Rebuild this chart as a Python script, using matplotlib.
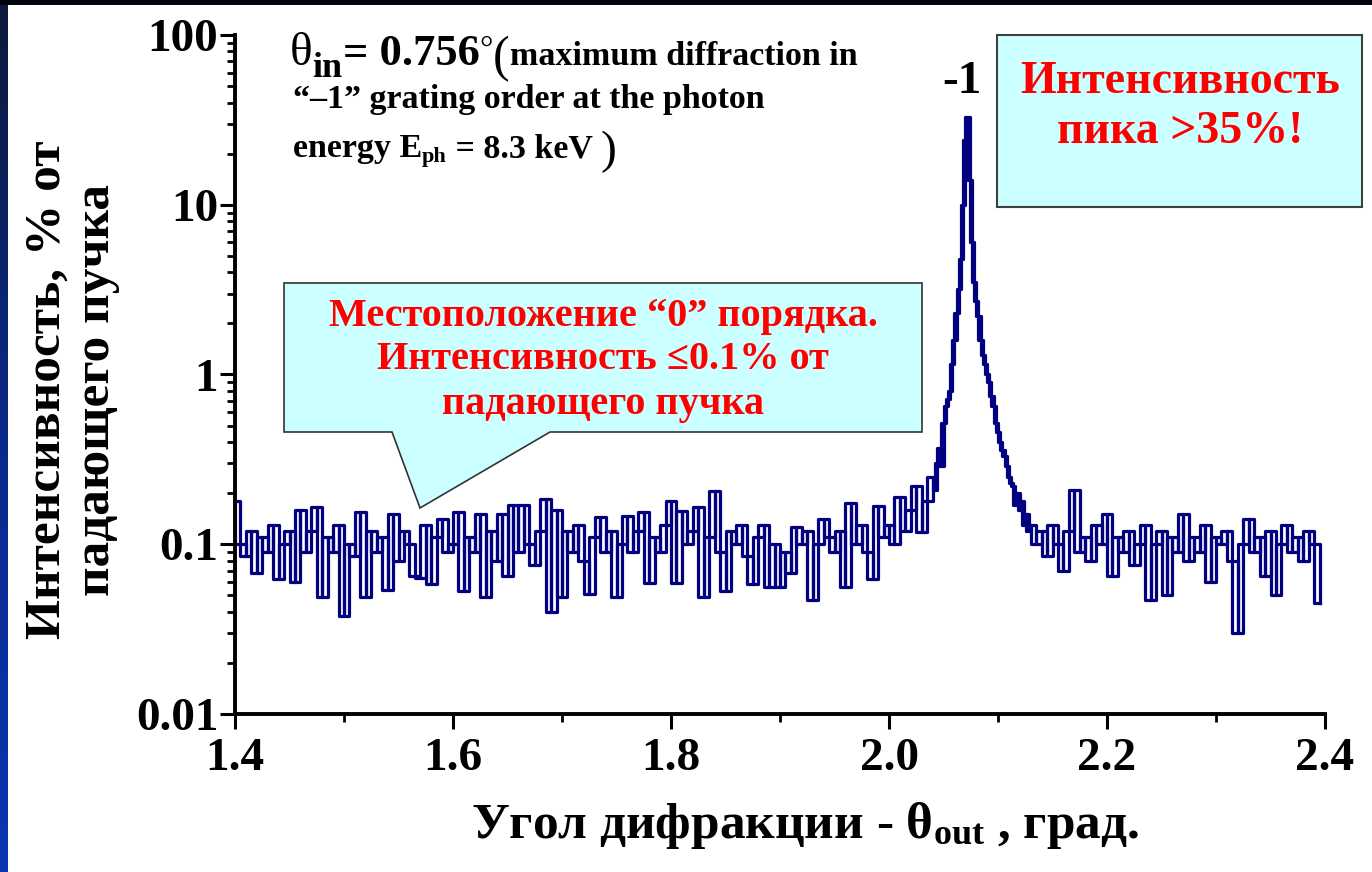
import numpy as np
import matplotlib
matplotlib.use("Agg")
import matplotlib.pyplot as plt
from matplotlib.patches import Rectangle, Polygon
from matplotlib.colors import LinearSegmentedColormap
from matplotlib.ticker import LogLocator, MultipleLocator, NullFormatter

plt.rcParams['font.family'] = ['Liberation Serif', 'DejaVu Serif']
plt.rcParams['font.weight'] = 'bold'
plt.rcParams['mathtext.fontset'] = 'custom'
plt.rcParams['mathtext.rm'] = 'Liberation Serif'
plt.rcParams['mathtext.bf'] = 'Liberation Serif:bold'
plt.rcParams['mathtext.it'] = 'Liberation Serif:italic'

# === data (intensity in % of incident beam)
# background left of the peak, step 0.005 deg
x_left = np.linspace(1.400, 2.035, 128)
y_left = [0.18, 0.10, 0.085, 0.12, 0.068, 0.11, 0.09, 0.13, 0.062, 0.10,
          0.12, 0.06, 0.16, 0.09, 0.12, 0.165, 0.049, 0.11, 0.09, 0.13,
          0.038, 0.10, 0.085, 0.154, 0.049, 0.12, 0.09, 0.11, 0.054, 0.15,
          0.08, 0.12, 0.10, 0.065, 0.063, 0.13, 0.058, 0.11, 0.14, 0.09,
          0.10, 0.154, 0.053, 0.11, 0.09, 0.15, 0.049, 0.12, 0.08, 0.15,
          0.065, 0.17, 0.09, 0.17, 0.10, 0.075, 0.12, 0.184, 0.040, 0.16,
          0.049, 0.12, 0.09, 0.13, 0.08, 0.051, 0.11, 0.145, 0.09, 0.12,
          0.049, 0.10, 0.147, 0.09, 0.12, 0.154, 0.059, 0.11, 0.09, 0.13,
          0.18, 0.059, 0.157, 0.10, 0.12, 0.165, 0.049, 0.11, 0.205, 0.09,
          0.053, 0.12, 0.10, 0.13, 0.085, 0.058, 0.11, 0.13, 0.056, 0.10,
          0.056, 0.09, 0.068, 0.126, 0.10, 0.12, 0.047, 0.10, 0.14, 0.11,
          0.09, 0.12, 0.056, 0.176, 0.10, 0.13, 0.09, 0.062, 0.167, 0.11,
          0.13, 0.10, 0.19, 0.12, 0.16, 0.22, 0.118, 0.18]

# the "-1" order peak, step 0.002 deg
x_peak = np.linspace(2.040, 2.130, 46)
y_peak = [0.25, 0.21, 0.30, 0.37, 0.29, 0.52, 0.65, 0.72, 0.80, 1.15,
          1.6, 2.3, 3.2, 4.8, 10.0, 24.0, 33.0, 14.0, 6.0, 3.5,
          2.7, 2.2, 1.6, 1.3, 1.15, 1.0, 0.9, 0.75, 0.65, 0.52,
          0.46, 0.40, 0.36, 0.33, 0.29, 0.25, 0.23, 0.22, 0.17, 0.20,
          0.16, 0.18, 0.13, 0.15, 0.12, 0.13]

# background right of the peak, step 0.005 deg
x_right = np.linspace(2.135, 2.395, 53)
y_right = [0.10, 0.12, 0.085, 0.13, 0.10, 0.07, 0.12, 0.21, 0.09, 0.11,
           0.08, 0.13, 0.10, 0.15, 0.065, 0.11, 0.09, 0.12, 0.075, 0.10,
           0.13, 0.047, 0.10, 0.12, 0.05, 0.11, 0.09, 0.15, 0.08, 0.11,
           0.09, 0.13, 0.06, 0.11, 0.10, 0.12, 0.08, 0.030, 0.10, 0.14,
           0.09, 0.11, 0.065, 0.12, 0.05, 0.10, 0.13, 0.09, 0.11, 0.08,
           0.12, 0.10, 0.045]

theta = np.concatenate([x_left, x_peak, x_right])
intensity = np.concatenate([y_left, y_peak, y_right])

x_ticks = [1.4, 1.6, 1.8, 2.0, 2.2, 2.4]
x_ticklabels = ["1.4", "1.6", "1.8", "2.0", "2.2", "2.4"]
y_ticks = [0.01, 0.1, 1, 10, 100]
y_ticklabels = ["0.01", "0.1", "1", "10", "100"]

W, H = 1372, 872
fig = plt.figure(figsize=(W / 100, H / 100), dpi=100)
fig.patch.set_facecolor('white')


def px(x, y):
    return x / W, 1 - y / H


# slide background strips
grad = np.linspace(0, 1, 256).reshape(-1, 1)
cmap_bg = LinearSegmentedColormap.from_list('bg', ['#0d1a3a', '#0a2a8a', '#0a36b4'])
bg = fig.add_axes([0, 0, 8 / W, 1])
bg.imshow(grad, aspect='auto', cmap=cmap_bg)
bg.axis('off')
fig.add_artist(Rectangle((0, 1 - 5 / H), 1, 5 / H, transform=fig.transFigure,
                         facecolor='#03050e', edgecolor='none'))

# === main plot
ax = fig.add_axes([235 / W, 1 - 714 / H, 1090 / W, 679 / H])
ax.plot(theta, intensity, drawstyle='steps-pre', color='#000080', lw=2.3)
ax.plot(theta, intensity, drawstyle='steps-post', color='#000080', lw=2.3)

ax.set_yscale('log')
ax.set_xlim(1.4, 2.4)
ax.set_ylim(0.01, 100)
ax.set_xticks(x_ticks, labels=x_ticklabels)
ax.set_yticks(y_ticks, labels=y_ticklabels)
ax.xaxis.set_minor_locator(MultipleLocator(0.1))
ax.yaxis.set_minor_locator(LogLocator(base=10, subs=np.arange(2, 10)))
ax.yaxis.set_minor_formatter(NullFormatter())
ax.spines['top'].set_visible(False)
ax.spines['right'].set_visible(False)
ax.spines['left'].set_linewidth(2.8)
ax.spines['bottom'].set_linewidth(2.8)
ax.tick_params(which='major', direction='out', length=11, width=2.2,
               labelsize=34, color='black')
ax.tick_params(axis='y', which='major', pad=1)
ax.tick_params(axis='x', which='major', pad=6)
ax.tick_params(which='minor', direction='out', length=6, width=2)

# axis labels
fig.text(*px(805, 838), r"Угол дифракции - $\mathrm{\theta}_{\mathbf{out}}$ , град.",
         fontsize=37, ha='center', va='baseline')
fig.text(*px(72, 390), "Интенсивность, % от\nпадающего пучка", rotation=90,
         fontsize=37, ha='center', va='center', linespacing=1.1,
         multialignment='center')

# peak label
fig.text(*px(962, 93), "-1", fontsize=34, ha='center', va='baseline')

# top-left annotation built from pieces
r = fig.canvas.get_renderer()


def chain(x, y, parts):
    for s, size, dy, weight in parts:
        t = fig.text(*px(x, y + dy), s, fontsize=size, fontweight=weight,
                     ha='left', va='baseline')
        x += t.get_window_extent(r).width


chain(290, 65, [("θ", 34, 0, 'normal'), ("in", 26, 12, 'bold'),
                ("= 0.756", 32, 0, 'bold'), ("°", 24, -6, 'normal'),
                ("(", 36, 6, 'normal'), ("maximum diffraction in", 24.5, 0, 'bold')])
chain(293, 108, [("“–1” grating order at the photon", 24.5, 0, 'bold')])
chain(293, 157, [("energy E", 24.5, 0, 'bold'), ("ph", 16, 5, 'bold'),
                 (" = 8.3 keV ", 24.5, 0, 'bold'), (")", 34, 6, 'normal')])

# box: peak intensity
x0, y0 = px(997, 207)
x1, y1 = px(1362, 35)
fig.add_artist(Rectangle((x0, y0), x1 - x0, y1 - y0, transform=fig.transFigure,
                         facecolor='#ccffff', edgecolor='#404040', lw=1.5))
fig.text(*px(1180, 93), "Интенсивность", color='#ff0000', fontsize=33,
         ha='center', va='baseline')
fig.text(*px(1180, 143), "пика >35%!", color='#ff0000', fontsize=33,
         ha='center', va='baseline')

# callout: zero order position
call = [(284, 283), (922, 283), (922, 432), (550, 432), (420, 508),
        (392, 432), (284, 432)]
fig.add_artist(Polygon([px(a, b) for a, b in call], closed=True,
                       transform=fig.transFigure, facecolor='#ccffff',
                       edgecolor='#333333', lw=1.2))
for txt, yy in [("Местоположение “0” порядка.", 326),
                ("Интенсивность ≤0.1% от", 369),
                ("падающего пучка", 414)]:
    fig.text(*px(603, yy), txt, color='#ff0000', fontsize=29,
             ha='center', va='baseline')

fig.savefig("out.png", dpi=100)
